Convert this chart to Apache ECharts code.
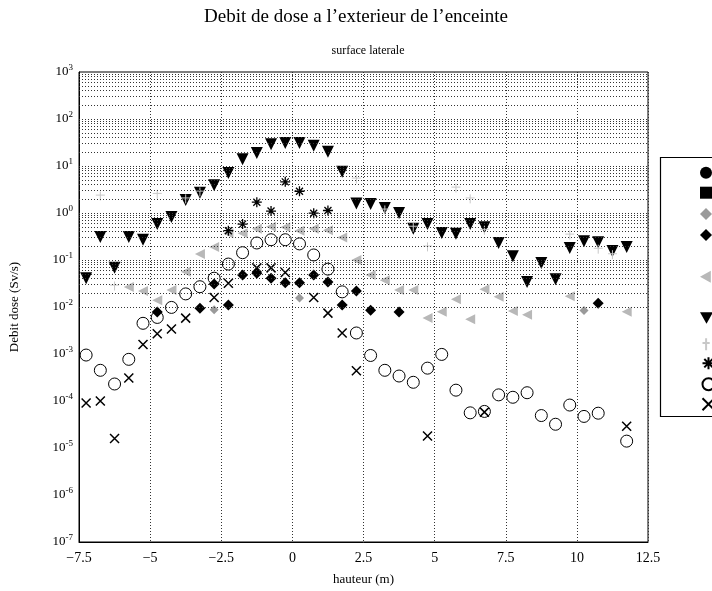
<!DOCTYPE html>
<html><head><meta charset="utf-8">
<script src="https://cdn.jsdelivr.net/npm/echarts@6/dist/echarts.min.js"></script>
<style>html,body{margin:0;padding:0;background:#fff}#c{width:712px;height:591px}</style>
</head><body><div id="c"></div>
<script>
// ---- data (hauteur in m, debit dose in Sv/s) ----
const xTicks = [-7.5, -5, -2.5, 0, 2.5, 5, 7.5, 10, 12.5];
const yTicks = [1e-7, 1e-6, 1e-5, 1e-4, 1e-3, 1e-2, 1e-1, 1e0, 1e1, 1e2, 1e3];

const filledCircleX = [];
const filledCircleY = [];

const filledSquareX = [];
const filledSquareY = [];

const grayDiamondX = [-2.75, 0.25, 10.25];
const grayDiamondY = [0.0087, 0.0155, 0.0084];

const blackDiamondX = [-4.75, -3.25, -2.75, -2.25, -1.75, -1.25, -0.75, -0.25, 0.25, 0.75, 1.25, 1.75, 2.25, 2.75, 3.75, 10.75];
const blackDiamondY = [7.8e-3, 9.4e-3, 3.1e-2, 1.1e-2, 4.8e-2, 5.2e-2, 4.1e-2, 3.3e-2, 3.3e-2, 4.8e-2, 3.4e-2, 1.1e-2, 2.2e-2, 8.5e-3, 7.8e-3, 1.2e-2];

const grayTriLeftX = [-5.75, -5.25, -4.75, -4.25, -3.75, -3.25, -2.75, -2.25, -1.75, -1.25, -0.75, -0.25, 0.25, 0.75, 1.25, 1.75, 2.25, 2.75, 3.25, 3.75, 4.25, 4.75, 5.25, 5.75, 6.25, 6.75, 7.25, 7.75, 8.25, 9.75, 11.75];
const grayTriLeftY = [0.0267, 0.022, 0.014, 0.023, 0.056, 0.134, 0.19, 0.37, 0.37, 0.46, 0.51, 0.50, 0.42, 0.46, 0.43, 0.30, 0.10, 0.048, 0.037, 0.023, 0.023, 0.0058, 0.0079, 0.0146, 0.0055, 0.024, 0.0166, 0.0082, 0.0068, 0.017, 0.0079];

const blackTriDownX = [-7.25, -6.75, -6.25, -5.75, -5.25, -4.75, -4.25, -3.75, -3.25, -2.75, -2.25, -1.75, -1.25, -0.75, -0.25, 0.25, 0.75, 1.25, 1.75, 2.25, 2.75, 3.25, 3.75, 4.25, 4.75, 5.25, 5.75, 6.25, 6.75, 7.25, 7.75, 8.25, 8.75, 9.25, 9.75, 10.25, 10.75, 11.25, 11.75];
const blackTriDownY = [0.041, 0.31, 0.068, 0.31, 0.27, 0.58, 0.82, 1.9, 2.7, 3.9, 7.1, 14, 19, 29, 31, 31, 27, 20, 7.5, 1.6, 1.55, 1.28, 1.0, 0.46, 0.58, 0.375, 0.36, 0.58, 0.50, 0.23, 0.12, 0.034, 0.086, 0.039, 0.18, 0.25, 0.24, 0.155, 0.19];

const lightPlusX = [-6.75, -6.25, -4.75, -3.75, -3.25, 2.25, 3.25, 4.25, 4.75, 5.75, 6.25, 6.75, 9.75, 10.75, 11.25];
const lightPlusY = [2.3, 0.028, 2.5, 2.0, 2.8, 5.3, 1.16, 0.5, 0.19, 3.4, 2.0, 0.43, 0.34, 0.17, 0.13];

const asteriskX = [-2.25, -1.75, -1.25, -0.75, -0.25, 0.25, 0.75, 1.25];
const asteriskY = [0.42, 0.58, 1.7, 1.1, 4.6, 2.9, 0.99, 1.13];

const openCircleX = [-7.25, -6.75, -6.25, -5.75, -5.25, -4.75, -4.25, -3.75, -3.25, -2.75, -2.25, -1.75, -1.25, -0.75, -0.25, 0.25, 0.75, 1.25, 1.75, 2.25, 2.75, 3.25, 3.75, 4.25, 4.75, 5.25, 5.75, 6.25, 6.75, 7.25, 7.75, 8.25, 8.75, 9.25, 9.75, 10.25, 10.75, 11.75];
const openCircleY = [9.5e-4, 4.5e-4, 2.3e-4, 7.7e-4, 4.5e-3, 6.0e-3, 9.8e-3, 1.9e-2, 2.7e-2, 4.1e-2, 8.2e-2, 0.143, 0.23, 0.27, 0.27, 0.22, 0.128, 0.064, 0.021, 2.8e-3, 9.3e-4, 4.5e-4, 3.4e-4, 2.5e-4, 5.0e-4, 9.8e-4, 1.7e-4, 5.6e-5, 6.0e-5, 1.35e-4, 1.2e-4, 1.5e-4, 4.9e-5, 3.2e-5, 8.2e-5, 4.7e-5, 5.5e-5, 1.4e-5];

const crossX = [-7.25, -6.75, -6.25, -5.75, -5.25, -4.75, -4.25, -3.75, -2.75, -2.25, -1.25, -0.75, -0.25, 0.75, 1.25, 1.75, 2.25, 4.75, 6.75, 11.75];
const crossY = [9.1e-5, 1.0e-4, 1.6e-5, 3.1e-4, 1.6e-3, 2.7e-3, 3.4e-3, 5.8e-3, 1.6e-2, 3.2e-2, 6.8e-2, 6.8e-2, 5.4e-2, 1.6e-2, 7.4e-3, 2.8e-3, 4.4e-4, 1.8e-5, 5.8e-5, 2.9e-5];

const minorMantissas = [2, 3, 4, 5, 6, 7, 8, 9];

// ---- helpers ----
const pts = (xs, ys) => xs.map((x, i) => [x, ys[i]]);
const FONT = 'Liberation Serif';
const dotted = { type: [1, 2], color: '#333', width: 1 };

const hLines = [];
yTicks.forEach((t, i) => {
  if (i > 0 && i < yTicks.length - 1) hLines.push({ yAxis: t });
  if (i < yTicks.length - 1) minorMantissas.forEach(m => hLines.push({ yAxis: m * t }));
});

const SYM = {
  triDown: 'path://M0,0L10,0L5,9Z',
  triLeft: 'path://M9,0L9,10L0,5Z',
  diamond: 'path://M5,0L10,5L5,10L0,5Z',
  cross: 'path://M0,0L10,10M10,0L0,10',
  aster: 'path://M5,0L5,10M0,5L10,5M1.5,1.5L8.5,8.5M8.5,1.5L1.5,8.5',
  plus: 'path://M5,0L5,10M2,4L8,4'
};

const seriesDefs = [
  { name: 'a', xs: filledCircleX, ys: filledCircleY, symbol: 'circle', size: 11, style: { color: '#000' } },
  { name: 'b', xs: filledSquareX, ys: filledSquareY, symbol: 'rect', size: 10, style: { color: '#000' } },
  { name: 'c', xs: grayDiamondX, ys: grayDiamondY, symbol: SYM.diamond, size: 9, style: { color: '#9a9a9a' } },
  { name: 'd', xs: blackDiamondX, ys: blackDiamondY, symbol: SYM.diamond, size: 11, style: { color: '#000' } },
  { name: 'e', xs: grayTriLeftX, ys: grayTriLeftY, symbol: SYM.triLeft, size: 10, style: { color: '#b8b8b8' } },
  { name: 'f', xs: blackTriDownX, ys: blackTriDownY, symbol: SYM.triDown, size: 12, style: { color: '#000' } },
  { name: 'g', xs: lightPlusX, ys: lightPlusY, symbol: SYM.plus, size: 9, style: { color: 'none', borderColor: '#c8c8c8', borderWidth: 1 } },
  { name: 'h', xs: asteriskX, ys: asteriskY, symbol: SYM.aster, size: 10, style: { color: 'none', borderColor: '#000', borderWidth: 1.3 } },
  { name: 'i', xs: openCircleX, ys: openCircleY, symbol: 'circle', size: 12, style: { color: 'none', borderColor: '#000', borderWidth: 1 } },
  { name: 'j', xs: crossX, ys: crossY, symbol: SYM.cross, size: 9, style: { color: 'none', borderColor: '#000', borderWidth: 1.5 } }
];

const legendTops = [172.7, 192.7, 214, 235, 276.7, 318, 341.7, 360.7, 381.7, 401.7];

const series = seriesDefs.map(d => ({
  type: 'scatter', name: d.name, data: pts(d.xs, d.ys),
  symbol: d.symbol, symbolSize: d.size, itemStyle: Object.assign({ opacity: 1 }, d.style),
  silent: true, animation: false, z: 3
}));
series.push({
  type: 'scatter', name: 'grid', data: [], silent: true, animation: false,
  markLine: {
    silent: true, animation: false, symbol: ['none', 'none'], label: { show: false },
    lineStyle: dotted, emphasis: { disabled: true }, data: hLines
  }, z: 1
});

const legends = seriesDefs.map((d, i) => ({
  data: [d.name], left: 700, top: legendTops[i] - 6, orient: 'vertical',
  itemWidth: 13, itemHeight: 12, itemGap: 0, padding: 0, selectedMode: false,
  textStyle: { fontFamily: FONT, fontSize: 12, color: '#000' }, z: 10
}));

const supFmt = v => {
  const e = Math.round(Math.log10(v));
  return '{b|10}{s|' + e + '}';
};

const option = {
  backgroundColor: '#fff',
  animation: false,
  title: [
    { text: 'Debit de dose a l\u2019exterieur de l\u2019enceinte', left: 'center', top: 3,
      textStyle: { fontFamily: FONT, fontSize: 19, fontWeight: 'normal', color: '#000' } },
    { text: 'surface laterale', left: 363, top: 40, textAlign: 'center',
      textStyle: { fontFamily: FONT, fontSize: 12, fontWeight: 'normal', color: '#000' } }
  ],
  legend: legends,
  graphic: [{
    type: 'rect', z: 5, silent: true,
    shape: { x: 660.5, y: 157.5, width: 100, height: 259 },
    style: { fill: '#fff', stroke: '#000', lineWidth: 1.2 }
  }],
  grid: { left: 78, right: 64, top: 72, bottom: 49, show: true, borderColor: '#000', borderWidth: 1, backgroundColor: 'transparent' },
  xAxis: {
    type: 'value', min: -7.5, max: 12.5, interval: 2.5,
    axisLine: { show: true, onZero: false, lineStyle: { color: '#000' } },
    axisTick: { show: false },
    splitLine: { show: true, lineStyle: dotted },
    axisLabel: { fontFamily: FONT, fontSize: 14, color: '#000', margin: 9,
      formatter: v => (xTicks.includes(v) ? String(v).replace('-', '\u2212') : '') },
    name: 'hauteur (m)', nameLocation: 'middle', nameGap: 31,
    nameTextStyle: { fontFamily: FONT, fontSize: 13, color: '#000' }
  },
  yAxis: {
    type: 'log', logBase: 10, min: 1e-7, max: 1e3,
    axisLine: { show: true, onZero: false, lineStyle: { color: '#000' } },
    axisTick: { show: false, customValues: yTicks },
    splitLine: { show: false },
    axisLabel: { color: '#000', margin: 6, formatter: supFmt, customValues: yTicks,
      rich: { b: { fontFamily: FONT, fontSize: 13, color: '#000' },
              s: { fontFamily: FONT, fontSize: 9, color: '#000', padding: [0, 0, 9, 0] } } },
    name: 'Debit dose (Sv/s)', nameLocation: 'middle', nameGap: 58,
    nameTextStyle: { fontFamily: FONT, fontSize: 13, color: '#000' }
  },
  series: series
};

const chart = echarts.init(document.getElementById('c'), null, { renderer: 'canvas' });
chart.setOption(option);
</script></body></html>
